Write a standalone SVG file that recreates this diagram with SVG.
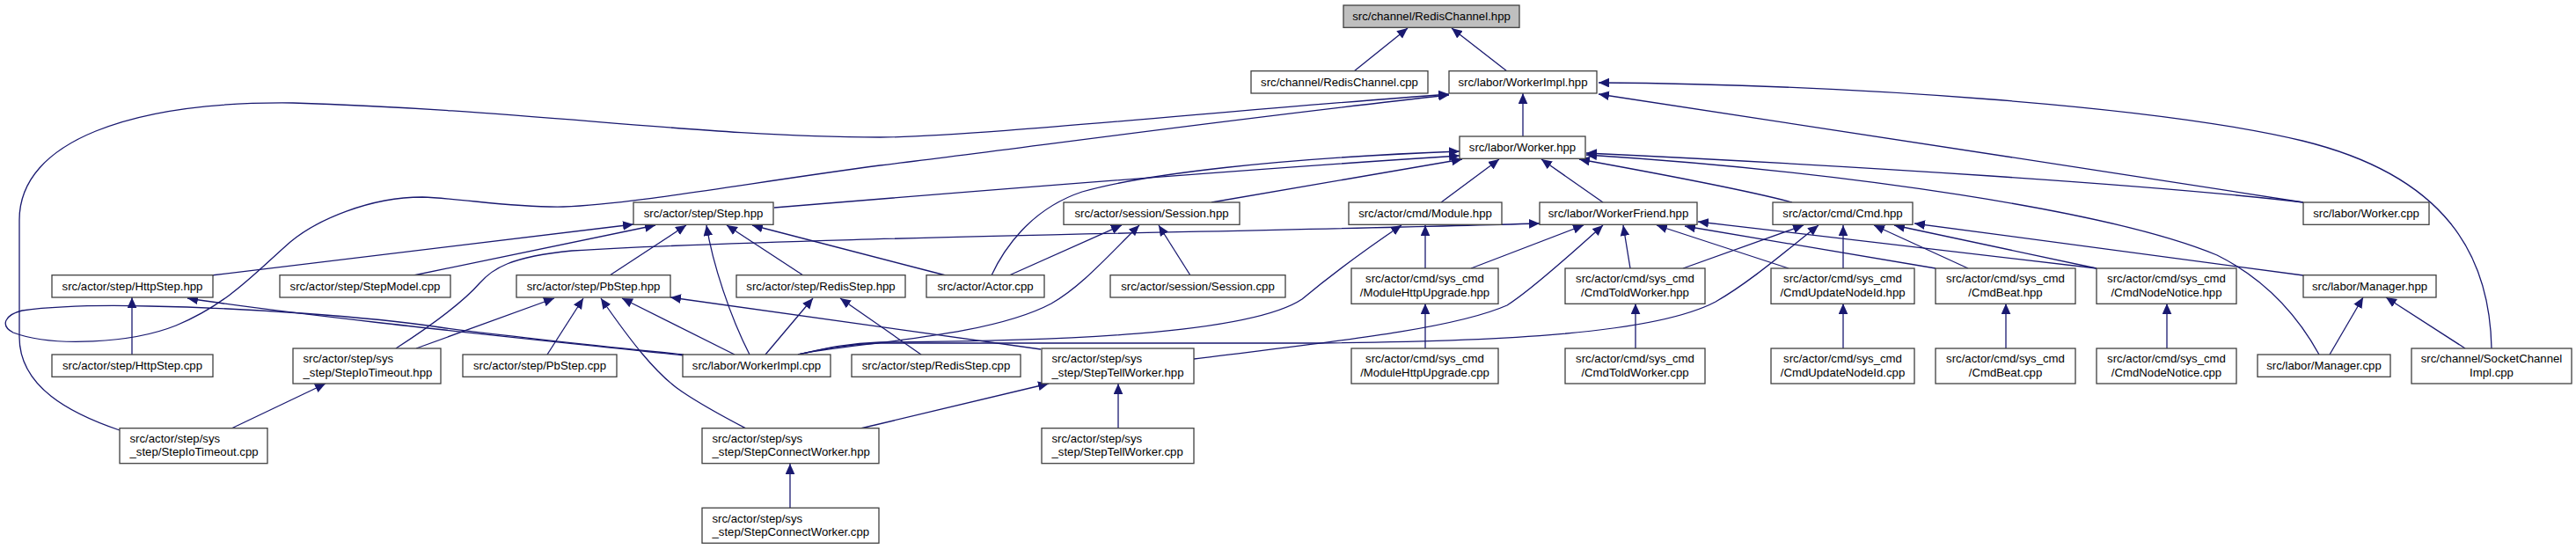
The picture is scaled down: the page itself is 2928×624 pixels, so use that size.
<svg xmlns="http://www.w3.org/2000/svg" width="2928" height="624" viewBox="0 0 2928 624">
<style>
.n rect{fill:#fff;stroke:#404040;stroke-width:1.3}
.n text{font-family:"Liberation Sans",Arial,sans-serif;font-size:13.2px;fill:#000;text-anchor:middle}
.n text.l{text-anchor:start}
#top rect{fill:#bfbfbf}
.e path{fill:none;stroke:#191970;stroke-width:1.3;marker-start:url(#ah)}
</style>
<defs>
<marker id="ah" markerWidth="12" markerHeight="11" refX="12" refY="5.35" orient="auto-start-reverse" markerUnits="userSpaceOnUse"><path d="M0,0 L12,5.35 L0,10.7 z" fill="#191970"/></marker>
</defs>
<rect width="2928" height="624" fill="#fff"/>
<g class="e" id="edges">
<path d="M1600,32 L1539,81"/>
<path d="M1650,32 L1713,81"/>
<path d="M1731,106 L1731,155"/>
<path d="M1817,107 C1990,133 2330,185 2618,230"/>
<path d="M1817,94 C2100,96 2450,120 2617,160 C2780,200 2830,290 2832,396"/>
<path d="M1647,107 C1400,125 1100,156 1000,156 C800,156 600,125 333,117 C150,115 22,160 22,250 L22,383 C22,440 80,470 136,489"/>
<path d="M1647,108 C1400,135 1150,170 1000,188 C850,208 720,232 640,235 C580,236 530,226 480,224 C420,224 360,250 330,275 C290,310 260,345 200,370 C150,390 60,395 15,378 C0,370 5,358 25,353 C70,347 130,347 170,348 C280,350 420,360 500,372 C600,385 700,395 777,403"/>
<path d="M1659,177 C1450,190 1050,222 880,236"/>
<path d="M1659,172 C1450,180 1300,198 1230,218 C1170,238 1140,285 1127,313"/>
<path d="M1662,181 L1377,230"/>
<path d="M1704,181 L1638,230"/>
<path d="M1752,181 L1822,230"/>
<path d="M1795,181 C1900,200 2000,220 2037,230"/>
<path d="M1803,174 C2100,188 2450,210 2618,230"/>
<path d="M1803,176 C2100,195 2400,240 2520,290 C2580,320 2615,365 2636,403"/>
<path d="M720,255 L240,313"/>
<path d="M745,256 L470,313"/>
<path d="M780,256 L693,313"/>
<path d="M803,256 C810,300 830,360 852,403"/>
<path d="M826,256 L913,313"/>
<path d="M855,256 L1075,313"/>
<path d="M1275,256 L1147,313"/>
<path d="M1295,256 C1260,290 1230,325 1195,345 C1120,385 960,390 907,403"/>
<path d="M1317,256 L1353,313"/>
<path d="M1593,256 C1550,285 1510,315 1480,340 C1420,380 1200,388 1000,389 C960,390 930,398 907,403"/>
<path d="M1620,256 L1620,305"/>
<path d="M1750,254 C1400,264 900,270 650,285 C580,292 560,305 545,322 C525,345 490,370 450,396"/>
<path d="M1800,256 L1672,305"/>
<path d="M1822,256 C1790,285 1740,330 1713,347 C1650,375 1500,390 1357,408"/>
<path d="M1845,256 L1853,305"/>
<path d="M1883,256 L2033,305"/>
<path d="M1915,257 L2200,305"/>
<path d="M1930,252 L2383,305"/>
<path d="M2050,256 L1913,305"/>
<path d="M2067,256 C2030,285 1990,320 1950,343 C1880,380 1700,388 1500,390 L1000,390 C960,391 930,398 907,403"/>
<path d="M2095,256 L2095,305"/>
<path d="M2130,256 L2237,305"/>
<path d="M2153,256 L2383,305"/>
<path d="M2176,254 L2618,313"/>
<path d="M150,338 L150,403"/>
<path d="M213,339 C350,360 600,385 777,404"/>
<path d="M630,339 L473,396"/>
<path d="M663,339 L622,403"/>
<path d="M683,339 C715,385 745,425 775,445 C800,462 825,475 848,487"/>
<path d="M707,339 L835,403"/>
<path d="M762,338 L1183,397"/>
<path d="M924,339 L870,403"/>
<path d="M955,339 L1047,403"/>
<path d="M370,436 L263,487"/>
<path d="M1192,436 L978,487"/>
<path d="M1271,436 L1271,487"/>
<path d="M898,527 L898,577"/>
<path d="M1620,345 L1620,396"/>
<path d="M1859,345 L1859,396"/>
<path d="M2095,345 L2095,396"/>
<path d="M2280,345 L2280,396"/>
<path d="M2463,345 L2463,396"/>
<path d="M2686,338 L2648,403"/>
<path d="M2712,338 L2802,396"/>
</g>
<g class="n" id="top"><rect x="1527" y="6" width="200" height="25.3"/><text x="1627" y="23.3">src/channel/RedisChannel.hpp</text></g>
<g class="n" id="n1"><rect x="1422" y="80.7" width="201" height="25.3"/><text x="1522.5" y="98">src/channel/RedisChannel.cpp</text></g>
<g class="n" id="n2"><rect x="1647" y="80.7" width="168" height="25.3"/><text x="1731" y="98">src/labor/WorkerImpl.hpp</text></g>
<g class="n" id="n3"><rect x="1659" y="155" width="143" height="25.3"/><text x="1730.5" y="172.3">src/labor/Worker.hpp</text></g>
<g class="n" id="n4"><rect x="720" y="230" width="159" height="25.3"/><text x="799.5" y="247.3">src/actor/step/Step.hpp</text></g>
<g class="n" id="n5"><rect x="1209" y="230" width="200" height="25.3"/><text x="1309" y="247.3">src/actor/session/Session.hpp</text></g>
<g class="n" id="n6"><rect x="1533" y="230" width="174" height="25.3"/><text x="1620" y="247.3">src/actor/cmd/Module.hpp</text></g>
<g class="n" id="n7"><rect x="1750" y="230" width="179" height="25.3"/><text x="1839.5" y="247.3">src/labor/WorkerFriend.hpp</text></g>
<g class="n" id="n8"><rect x="2015" y="230" width="159" height="25.3"/><text x="2094.5" y="247.3">src/actor/cmd/Cmd.hpp</text></g>
<g class="n" id="n9"><rect x="2618" y="230" width="143" height="25.3"/><text x="2689.5" y="247.3">src/labor/Worker.cpp</text></g>
<g class="n" id="n10"><rect x="59" y="312.7" width="183" height="25.3"/><text x="150.5" y="330">src/actor/step/HttpStep.hpp</text></g>
<g class="n" id="n11"><rect x="318" y="312.7" width="194" height="25.3"/><text x="415" y="330">src/actor/step/StepModel.cpp</text></g>
<g class="n" id="n12"><rect x="587" y="312.7" width="175" height="25.3"/><text x="674.5" y="330">src/actor/step/PbStep.hpp</text></g>
<g class="n" id="n13"><rect x="837" y="312.7" width="192" height="25.3"/><text x="933" y="330">src/actor/step/RedisStep.hpp</text></g>
<g class="n" id="n14"><rect x="1053" y="312.7" width="134" height="25.3"/><text x="1120" y="330">src/actor/Actor.cpp</text></g>
<g class="n" id="n15"><rect x="1262" y="312.7" width="199" height="25.3"/><text x="1361.5" y="330">src/actor/session/Session.cpp</text></g>
<g class="n" id="n16"><rect x="1536" y="305" width="167" height="40.3"/><text x="1619.5" y="321.3">src/actor/cmd/sys_cmd</text><text x="1619.5" y="336.7">/ModuleHttpUpgrade.hpp</text></g>
<g class="n" id="n17"><rect x="1779" y="305" width="159" height="40.3"/><text x="1858.5" y="321.3">src/actor/cmd/sys_cmd</text><text x="1858.5" y="336.7">/CmdToldWorker.hpp</text></g>
<g class="n" id="n18"><rect x="2013" y="305" width="163" height="40.3"/><text x="2094.5" y="321.3">src/actor/cmd/sys_cmd</text><text x="2094.5" y="336.7">/CmdUpdateNodeId.hpp</text></g>
<g class="n" id="n19"><rect x="2200" y="305" width="159" height="40.3"/><text x="2279.5" y="321.3">src/actor/cmd/sys_cmd</text><text x="2279.5" y="336.7">/CmdBeat.hpp</text></g>
<g class="n" id="n20"><rect x="2383" y="305" width="159" height="40.3"/><text x="2462.5" y="321.3">src/actor/cmd/sys_cmd</text><text x="2462.5" y="336.7">/CmdNodeNotice.hpp</text></g>
<g class="n" id="n21"><rect x="2618" y="312.7" width="151" height="25.3"/><text x="2693.5" y="330">src/labor/Manager.hpp</text></g>
<g class="n" id="n22"><rect x="59" y="403" width="183" height="25.3"/><text x="150.5" y="420.3">src/actor/step/HttpStep.cpp</text></g>
<g class="n" id="n23"><rect x="333" y="396" width="168" height="40"/><text class="l" x="344.5" y="412.3">src/actor/step/sys</text><text class="l" x="344.5" y="427.7">_step/StepIoTimeout.hpp</text></g>
<g class="n" id="n24"><rect x="526" y="403" width="175" height="25.3"/><text x="613.5" y="420.3">src/actor/step/PbStep.cpp</text></g>
<g class="n" id="n25"><rect x="776" y="403" width="168" height="25.3"/><text x="860" y="420.3">src/labor/WorkerImpl.cpp</text></g>
<g class="n" id="n26"><rect x="968" y="403" width="192" height="25.3"/><text x="1064" y="420.3">src/actor/step/RedisStep.cpp</text></g>
<g class="n" id="n27"><rect x="1184" y="396" width="173" height="40"/><text class="l" x="1195.5" y="412.3">src/actor/step/sys</text><text class="l" x="1195.5" y="427.7">_step/StepTellWorker.hpp</text></g>
<g class="n" id="n28"><rect x="1536" y="396" width="167" height="40"/><text x="1619.5" y="412.3">src/actor/cmd/sys_cmd</text><text x="1619.5" y="427.7">/ModuleHttpUpgrade.cpp</text></g>
<g class="n" id="n29"><rect x="1779" y="396" width="159" height="40"/><text x="1858.5" y="412.3">src/actor/cmd/sys_cmd</text><text x="1858.5" y="427.7">/CmdToldWorker.cpp</text></g>
<g class="n" id="n30"><rect x="2013" y="396" width="163" height="40"/><text x="2094.5" y="412.3">src/actor/cmd/sys_cmd</text><text x="2094.5" y="427.7">/CmdUpdateNodeId.cpp</text></g>
<g class="n" id="n31"><rect x="2200" y="396" width="159" height="40"/><text x="2279.5" y="412.3">src/actor/cmd/sys_cmd</text><text x="2279.5" y="427.7">/CmdBeat.cpp</text></g>
<g class="n" id="n32"><rect x="2383" y="396" width="159" height="40"/><text x="2462.5" y="412.3">src/actor/cmd/sys_cmd</text><text x="2462.5" y="427.7">/CmdNodeNotice.cpp</text></g>
<g class="n" id="n33"><rect x="2566" y="403" width="151" height="25.3"/><text x="2641.5" y="420.3">src/labor/Manager.cpp</text></g>
<g class="n" id="n34"><rect x="2741" y="396" width="182" height="40"/><text x="2832" y="412.3">src/channel/SocketChannel</text><text x="2832" y="427.7">Impl.cpp</text></g>
<g class="n" id="n35"><rect x="136" y="486.7" width="168" height="40"/><text class="l" x="147.5" y="503">src/actor/step/sys</text><text class="l" x="147.5" y="518.4">_step/StepIoTimeout.cpp</text></g>
<g class="n" id="n36"><rect x="798" y="486.7" width="201" height="40"/><text class="l" x="809.5" y="503">src/actor/step/sys</text><text class="l" x="809.5" y="518.4">_step/StepConnectWorker.hpp</text></g>
<g class="n" id="n37"><rect x="1184" y="486.7" width="173" height="40"/><text class="l" x="1195.5" y="503">src/actor/step/sys</text><text class="l" x="1195.5" y="518.4">_step/StepTellWorker.cpp</text></g>
<g class="n" id="n38"><rect x="798" y="577.3" width="201" height="40"/><text class="l" x="809.5" y="593.6">src/actor/step/sys</text><text class="l" x="809.5" y="609">_step/StepConnectWorker.cpp</text></g>
</svg>
